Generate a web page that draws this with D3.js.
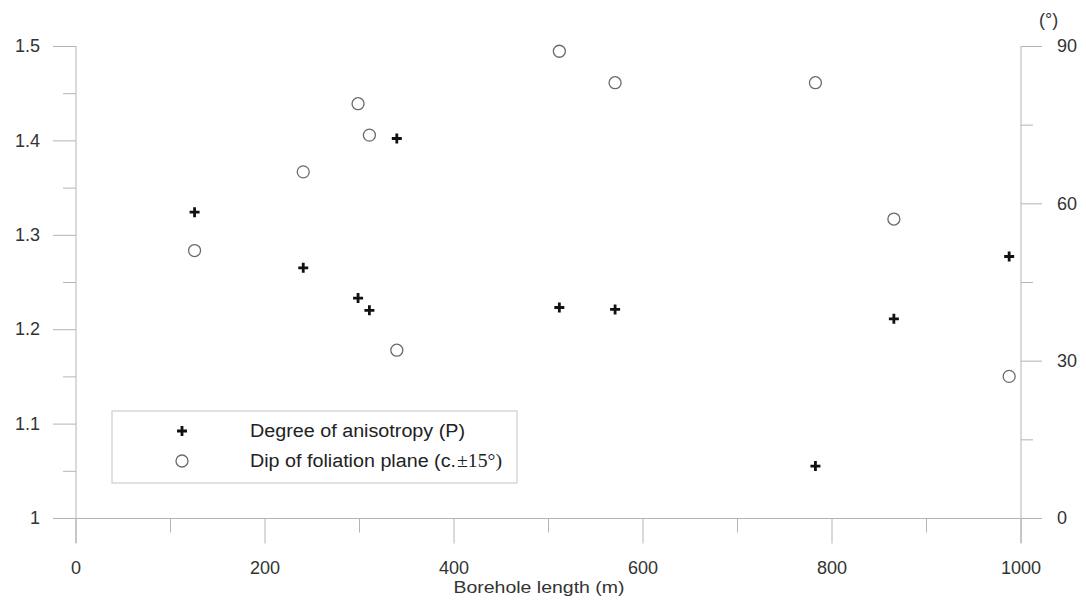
<!DOCTYPE html>
<html>
<head>
<meta charset="utf-8">
<script src="https://cdn.jsdelivr.net/npm/d3@7"></script>
<style>
  html, body { margin: 0; padding: 0; background: #fff; }
  svg { display: block; font-family: "Liberation Sans", Arial, sans-serif; }
</style>
</head>
<body>
<svg id="chart" width="1086" height="604"></svg>
<script>
// ---- data ----
const boreholeLength = [126, 241, 299, 311, 340, 512, 571, 783, 866, 988];
const anisotropyP    = [1.324, 1.265, 1.233, 1.220, 1.402, 1.223, 1.221, 1.055, 1.211, 1.277];
const foliationDip   = [51, 66, 79, 73, 32, 89, 83, 83, 57, 27];

const xMajorTicks = [0, 200, 400, 600, 800, 1000];
const xMinorTicks = [100, 300, 500, 700, 900];
const yLeftMajorTicks = [1, 1.1, 1.2, 1.3, 1.4, 1.5];
const yLeftMinorTicks = [1.05, 1.15, 1.25, 1.35, 1.45];
const yRightMajorTicks = [0, 30, 60, 90];
const yRightMinorTicks = [15, 45, 75];
const legendLabels = ["Degree of anisotropy (P)", "Dip of foliation plane (c.", "±15°)"];
const xTitle = "Borehole length (m)";
const yRightTitle = "(°)";

// ---- layout ----
const svg = d3.select("#chart");
const axisColor = "#b4b4b4";
const textColor = "#333";

const x = d3.scaleLinear().domain([0, 1000]).range([75.5, 1020.5]);
const yL = d3.scaleLinear().domain([1, 1.5]).range([518, 46]);
const yR = d3.scaleLinear().domain([0, 90]).range([518, 46]);

function styleAxis(g) {
  g.select(".domain").remove();
  g.selectAll(".tick line").attr("stroke", axisColor).attr("stroke-width", 1);
  g.selectAll(".tick text").attr("fill", textColor).attr("font-size", 18)
    .attr("font-family", "'Liberation Sans', Arial, sans-serif");
}

// axis lines
svg.append("line").attr("x1", 53).attr("x2", 1042).attr("y1", 518.5).attr("y2", 518.5)
  .attr("stroke", axisColor);
svg.append("line").attr("x1", 76).attr("x2", 76).attr("y1", 46).attr("y2", 543)
  .attr("stroke", axisColor);
svg.append("line").attr("x1", 1021).attr("x2", 1021).attr("y1", 46).attr("y2", 543)
  .attr("stroke", axisColor);

// left axis
svg.append("g").attr("transform", "translate(76,0)")
  .call(d3.axisLeft(yL).tickValues(yLeftMajorTicks).tickSize(23).tickPadding(13)
    .tickFormat(d => d3.format("~g")(d)))
  .call(styleAxis);
svg.append("g").attr("transform", "translate(76,0)")
  .call(d3.axisLeft(yL).tickValues(yLeftMinorTicks).tickSize(13).tickFormat(""))
  .call(styleAxis);

// right axis
svg.append("g").attr("transform", "translate(1021,0)")
  .call(d3.axisRight(yR).tickValues(yRightMajorTicks).tickSize(21).tickPadding(15))
  .call(styleAxis);
svg.append("g").attr("transform", "translate(1021,0)")
  .call(d3.axisRight(yR).tickValues(yRightMinorTicks).tickSize(12).tickFormat(""))
  .call(styleAxis);

// bottom axis
svg.append("g").attr("transform", "translate(0,518.5)")
  .call(d3.axisBottom(x).tickValues(xMajorTicks).tickSize(25).tickPadding(18)
    .tickFormat(d3.format("d")))
  .call(styleAxis);
svg.append("g").attr("transform", "translate(0,518.5)")
  .call(d3.axisBottom(x).tickValues(xMinorTicks).tickSize(14).tickFormat(""))
  .call(styleAxis);

// axis titles
svg.append("text").attr("x", 539).attr("y", 593).attr("text-anchor", "middle")
  .attr("font-size", 17).attr("fill", textColor)
  .attr("textLength", 171).attr("lengthAdjust", "spacingAndGlyphs").text(xTitle);
svg.append("text").attr("x", 1039).attr("y", 26)
  .attr("font-size", 18).attr("fill", textColor).text(yRightTitle);

// markers
const crossPath = "M-5,0H5M0,-5V5";
const pts = boreholeLength.map((d, i) => ({ len: d, p: anisotropyP[i], dip: foliationDip[i] }));

svg.append("g").selectAll("circle").data(pts).join("circle")
  .attr("cx", d => x(d.len)).attr("cy", d => yR(d.dip)).attr("r", 6)
  .attr("fill", "none").attr("stroke", "#6a6a6a").attr("stroke-width", 1.3);

svg.append("g").selectAll("path").data(pts).join("path")
  .attr("transform", d => `translate(${x(d.len)},${yL(d.p)})`)
  .attr("d", crossPath).attr("stroke", "#111").attr("stroke-width", 2.8).attr("fill", "none");

// legend
const lg = svg.append("g");
lg.append("rect").attr("x", 112).attr("y", 411).attr("width", 405).attr("height", 72)
  .attr("fill", "#fff").attr("stroke", "#c4c4c4").attr("stroke-width", 1);
lg.append("path").attr("transform", "translate(182,431)").attr("d", crossPath)
  .attr("stroke", "#111").attr("stroke-width", 2.8);
lg.append("circle").attr("cx", 182).attr("cy", 461).attr("r", 6)
  .attr("fill", "none").attr("stroke", "#6a6a6a").attr("stroke-width", 1.3);
lg.append("text").attr("x", 250).attr("y", 437).attr("font-size", 18).attr("fill", "#222")
  .attr("textLength", 215).attr("lengthAdjust", "spacingAndGlyphs").text(legendLabels[0]);
lg.append("text").attr("x", 250).attr("y", 467).attr("font-size", 18).attr("fill", "#222")
  .attr("textLength", 206).attr("lengthAdjust", "spacingAndGlyphs").text(legendLabels[1]);
lg.append("text").attr("x", 457).attr("y", 467).attr("font-size", 18).attr("fill", "#222")
  .attr("font-family", "'Liberation Serif', 'Times New Roman', serif")
  .attr("textLength", 45).attr("lengthAdjust", "spacingAndGlyphs").text(legendLabels[2]);
</script>
</body>
</html>
